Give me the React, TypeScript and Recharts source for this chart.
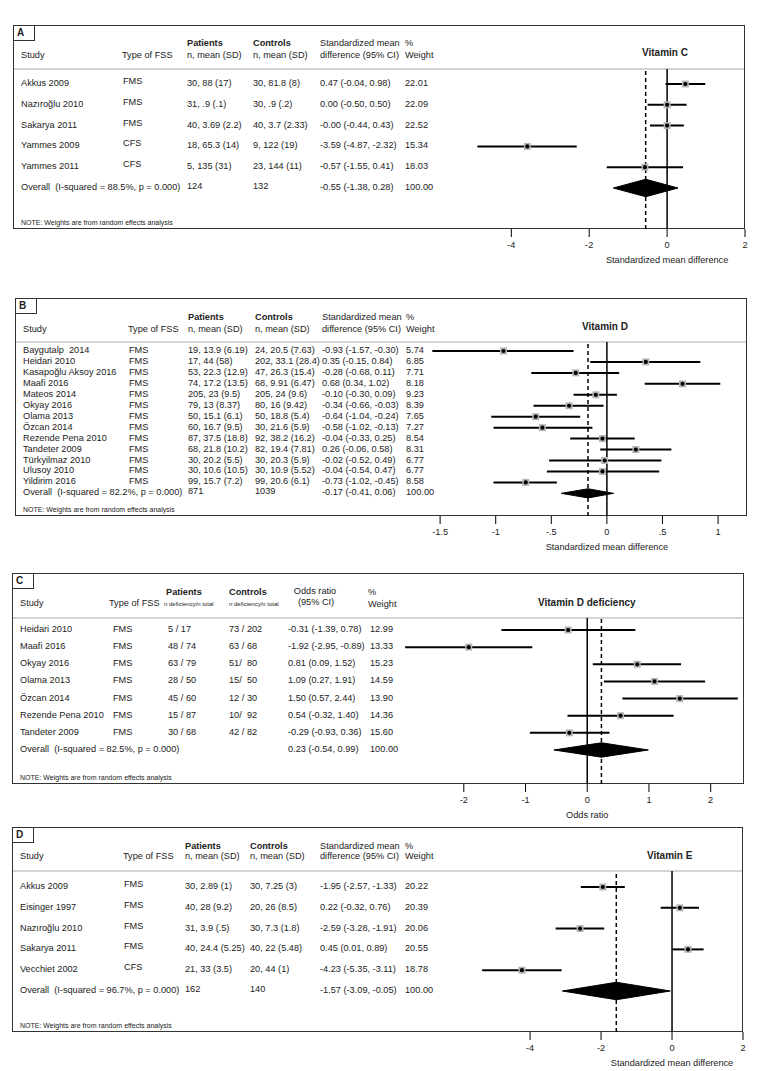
import React from 'react'
import { ComposedChart, Scatter, ErrorBar, Area, XAxis, YAxis, ReferenceLine } from 'recharts'

const FONT = '"Liberation Sans", Arial, Helvetica, sans-serif'
const INK = '#222'
const FS = 9.2

// A: Vitamin C
const studiesA = ['Akkus 2009', 'Nazıroğlu 2010', 'Sakarya 2011', 'Yammes 2009', 'Yammes 2011']
const fssA = ['FMS', 'FMS', 'FMS', 'CFS', 'CFS']
const patientsA = ['30, 88 (17)', '31, .9 (.1)', '40, 3.69 (2.2)', '18, 65.3 (14)', '5, 135 (31)']
const controlsA = ['30, 81.8 (8)', '30, .9 (.2)', '40, 3.7 (2.33)', '9, 122 (19)', '23, 144 (11)']
const smdA = [0.47, 0.0, -0.0, -3.59, -0.57]
const lowA = [-0.04, -0.5, -0.44, -4.87, -1.55]
const highA = [0.98, 0.5, 0.43, -2.32, 0.41]
const weightA = [22.01, 22.09, 22.52, 15.34, 18.03]
const overallA = { label: 'Overall  (I-squared = 88.5%, p = 0.000)', patients: '124', controls: '132', est: -0.55, low: -1.38, high: 0.28 }
const ticksA = [-4, -2, 0, 2]

// B: Vitamin D
const studiesB = ['Baygutalp  2014', 'Heidari 2010', 'Kasapoğlu Aksoy 2016', 'Maafi 2016', 'Mateos 2014', 'Okyay 2016', 'Olama 2013', 'Özcan 2014', 'Rezende Pena 2010', 'Tandeter 2009', 'Türkyilmaz 2010', 'Ulusoy 2010', 'Yildirim 2016']
const fssB = ['FMS', 'FMS', 'FMS', 'FMS', 'FMS', 'FMS', 'FMS', 'FMS', 'FMS', 'FMS', 'FMS', 'FMS', 'FMS']
const patientsB = ['19, 13.9 (6.19)', '17, 44 (58)', '53, 22.3 (12.9)', '74, 17.2 (13.5)', '205, 23 (9.5)', '79, 13 (8.37)', '50, 15.1 (6.1)', '60, 16.7 (9.5)', '87, 37.5 (18.8)', '68, 21.8 (10.2)', '30, 20.2 (5.5)', '30, 10.6 (10.5)', '99, 15.7 (7.2)']
const controlsB = ['24, 20.5 (7.63)', '202, 33.1 (28.4)', '47, 26.3 (15.4)', '68, 9.91 (6.47)', '205, 24 (9.6)', '80, 16 (9.42)', '50, 18.8 (5.4)', '30, 21.6 (5.9)', '92, 38.2 (16.2)', '82, 19.4 (7.81)', '30, 20.3 (5.9)', '30, 10.9 (5.52)', '99, 20.6 (6.1)']
const smdB = [-0.93, 0.35, -0.28, 0.68, -0.1, -0.34, -0.64, -0.58, -0.04, 0.26, -0.02, -0.04, -0.73]
const lowB = [-1.57, -0.15, -0.68, 0.34, -0.3, -0.66, -1.04, -1.02, -0.33, -0.06, -0.52, -0.54, -1.02]
const highB = [-0.3, 0.84, 0.11, 1.02, 0.09, -0.03, -0.24, -0.13, 0.25, 0.58, 0.49, 0.47, -0.45]
const weightB = [5.74, 6.85, 7.71, 8.18, 9.23, 8.39, 7.65, 7.27, 8.54, 8.31, 6.77, 6.77, 8.58]
const overallB = { label: 'Overall  (I-squared = 82.2%, p = 0.000)', patients: '871', controls: '1039', est: -0.17, low: -0.41, high: 0.06 }
const ticksB = [-1.5, -1, -0.5, 0, 0.5, 1]

// C: Vitamin D deficiency
const studiesC = ['Heidari 2010', 'Maafi 2016', 'Okyay 2016', 'Olama 2013', 'Özcan 2014', 'Rezende Pena 2010', 'Tandeter 2009']
const fssC = ['FMS', 'FMS', 'FMS', 'FMS', 'FMS', 'FMS', 'FMS']
const patientsC = ['5 / 17', '48 / 74', '63 / 79', '28 / 50', '45 / 60', '15 / 87', '30 / 68']
const controlsC = ['73 / 202', '63 / 68', '51/  80', '15/  50', '12 / 30', '10/  92', '42 / 82']
const orC = [-0.31, -1.92, 0.81, 1.09, 1.5, 0.54, -0.29]
const lowC = [-1.39, -2.95, 0.09, 0.27, 0.57, -0.32, -0.93]
const highC = [0.78, -0.89, 1.52, 1.91, 2.44, 1.4, 0.36]
const weightC = [12.99, 13.33, 15.23, 14.59, 13.9, 14.36, 15.6]
const overallC = { label: 'Overall  (I-squared = 82.5%, p = 0.000)', patients: '', controls: '', est: 0.23, low: -0.54, high: 0.99 }
const ticksC = [-2, -1, 0, 1, 2]

// D: Vitamin E
const studiesD = ['Akkus 2009', 'Eisinger 1997', 'Nazıroğlu 2010', 'Sakarya 2011', 'Vecchiet 2002']
const fssD = ['FMS', 'FMS', 'FMS', 'FMS', 'CFS']
const patientsD = ['30, 2.89 (1)', '40, 28 (9.2)', '31, 3.9 (.5)', '40, 24.4 (5.25)', '21, 33 (3.5)']
const controlsD = ['30, 7.25 (3)', '20, 26 (8.5)', '30, 7.3 (1.8)', '40, 22 (5.48)', '20, 44 (1)']
const smdD = [-1.95, 0.22, -2.59, 0.45, -4.23]
const lowD = [-2.57, -0.32, -3.28, 0.01, -5.35]
const highD = [-1.33, 0.76, -1.91, 0.89, -3.11]
const weightD = [20.22, 20.39, 20.06, 20.55, 18.78]
const overallD = { label: 'Overall  (I-squared = 96.7%, p = 0.000)', patients: '162', controls: '140', est: -1.57, low: -3.09, high: -0.05 }
const ticksD = [-4, -2, 0, 2]

const fmt = (v: number) => (Object.is(v, -0) ? '-0.00' : v.toFixed(2))
const ciText = (e: number, l: number, h: number) => `${fmt(e)} (${fmt(l)}, ${fmt(h)})`
const tickFmt = (v: number) => String(v).replace(/^(-?)0\./, '$1.')

type Head = { t: string; x: number; y: number; b?: boolean; s?: number; c?: boolean }

function T({ x, y, children, b, s, c }: { x: number; y: number; children: React.ReactNode; b?: boolean; s?: number; c?: boolean }) {
  return (
    <div
      style={{
        position: 'absolute', left: x, top: y, transform: c ? 'translate(-50%,-50%)' : 'translateY(-50%)',
        fontFamily: FONT, fontSize: s ?? FS, fontWeight: b ? 700 : 400, color: INK, whiteSpace: 'pre', lineHeight: 1,
      }}
    >
      {children}
    </div>
  )
}

const smdHeads = (c: any, top: number, bot: number): Head[] => [
  { t: 'Study', x: c.name, y: bot },
  { t: 'Type of FSS', x: c.fss - 1, y: bot },
  { t: 'Patients', x: c.pat, y: top, b: true },
  { t: 'n, mean (SD)', x: c.pat, y: bot },
  { t: 'Controls', x: c.ctl, y: top, b: true },
  { t: 'n, mean (SD)', x: c.ctl, y: bot },
  { t: 'Standardized mean', x: c.ci, y: top },
  { t: 'difference (95% CI)', x: c.ci, y: bot },
  { t: '%', x: c.wt, y: top },
  { t: 'Weight', x: c.wt, y: bot },
]

const Marker = (props: any) => {
  const { cx, cy } = props
  if (cx == null || cy == null) return null
  return (
    <g>
      <rect x={cx - 3.5} y={cy - 3.5} width={7} height={7} fill="#b5b5b5" />
      <circle cx={cx} cy={cy} r={2.1} fill="#000" />
    </g>
  )
}

function Panel(p: any) {
  const n = p.studies.length
  const rows = p.est.map((e: number, i: number) => ({ x: e, y: i, err: [e - p.low[i], p.high[i] - e] }))
  const ov = p.overall
  const diamond = [
    { x: ov.low, d: [n, n] },
    { x: ov.est, d: [n - 0.42, n + 0.42] },
    { x: ov.high, d: [n, n] },
  ]
  const rowY = (i: number) => p.row0 + p.pitch * i
  const box = p.box
  const yDomain = [(p.headerY - p.row0) / p.pitch, (box.b - p.row0) / p.pitch]
  const cw = box.r - p.plotLeft + 25
  const ch = box.b - p.headerY + 45
  const c = p.cols
  return (
    <>
      <div style={{ position: 'absolute', left: box.l, top: box.t, width: box.r - box.l, height: box.b - box.t, border: '1.5px solid #333', boxSizing: 'border-box' }} />
      <div style={{ position: 'absolute', left: box.l, top: box.t, width: 22, height: 16, borderRight: '1.5px solid #333', borderBottom: '1.5px solid #333', boxSizing: 'border-box' }} />
      <T x={box.l + 4} y={box.t + 8} b s={10}>{p.letter}</T>
      <div style={{ position: 'absolute', left: box.l + 1, top: p.headerY - 1, width: box.r - box.l - 2, height: 2, background: '#d4d4d4' }} />
      {p.heads.map((h: Head, i: number) => (
        <T key={'h' + i} x={h.x} y={h.y} b={h.b} s={h.s} c={h.c}>{h.t}</T>
      ))}
      <T x={p.titleX} y={p.titleY} b s={10}>{p.title}</T>
      {p.studies.map((s: string, i: number) => (
        <React.Fragment key={s}>
          <T x={c.name} y={rowY(i)}>{s}</T>
          <T x={c.fss} y={rowY(i) + p.fssDy}>{p.fss[i]}</T>
          <T x={c.pat} y={rowY(i)}>{p.patients[i]}</T>
          <T x={c.ctl} y={rowY(i)}>{p.controls[i]}</T>
          <T x={c.ci} y={rowY(i)}>{ciText(p.est[i], p.low[i], p.high[i])}</T>
          <T x={c.wt} y={rowY(i)}>{p.weight[i].toFixed(2)}</T>
        </React.Fragment>
      ))}
      <T x={c.name} y={rowY(n)}>{ov.label}</T>
      <T x={c.pat} y={rowY(n) - 1}>{ov.patients}</T>
      <T x={c.ctl} y={rowY(n) - 1}>{ov.controls}</T>
      <T x={c.ci} y={rowY(n)}>{ciText(ov.est, ov.low, ov.high)}</T>
      <T x={c.wt} y={rowY(n)}>{(100).toFixed(2)}</T>
      <T x={c.name} y={box.b - 7} s={7}>NOTE: Weights are from random effects analysis</T>
      <div style={{ position: 'absolute', left: p.plotLeft, top: p.headerY }}>
        <ComposedChart width={cw} height={ch} margin={{ top: 0, right: 25, left: 0, bottom: 0 }}>
          <XAxis
            type="number" dataKey="x" domain={p.domain} allowDataOverflow ticks={p.ticks} interval={0}
            tickFormatter={tickFmt} axisLine={false} tickLine={{ stroke: '#000' }} tickSize={8} tickMargin={4} height={45}
            tick={{ fontSize: FS, fill: INK, fontFamily: FONT }}
          />
          <YAxis type="number" dataKey="y" domain={yDomain} allowDataOverflow reversed hide />
          <ReferenceLine
            x={0} stroke="#000" strokeWidth={1.5}
            label={{ value: p.axisTitle, position: 'bottom', offset: 27, fontSize: FS, fill: INK, fontFamily: FONT }}
          />
          <ReferenceLine x={ov.est} stroke="#000" strokeWidth={1.5} strokeDasharray="4 3" />
          <Area data={diamond} dataKey="d" type="linear" stroke="#000" strokeWidth={1} fill="#000" fillOpacity={1} dot={false} activeDot={false} isAnimationActive={false} />
          <Scatter data={rows} shape={Marker} isAnimationActive={false}>
            <ErrorBar dataKey="err" direction="x" width={0} stroke="#000" strokeWidth={2} />
          </Scatter>
        </ComposedChart>
      </div>
    </>
  )
}

const colsA = { name: 21, fss: 123, pat: 187, ctl: 253, ci: 320, wt: 405 }
const colsB = { name: 23, fss: 129, pat: 188, ctl: 255, ci: 322, wt: 406 }
const colsC = { name: 20, fss: 113, pat: 168, ctl: 229, ci: 288, wt: 370 }
const colsD = { name: 20, fss: 124, pat: 185, ctl: 250, ci: 320, wt: 405 }

const headsC: Head[] = [
  { t: 'Study', x: 20, y: 604 },
  { t: 'Type of FSS', x: 109, y: 604 },
  { t: 'Patients', x: 166, y: 593, b: true },
  { t: 'n deficiency/n total', x: 164, y: 604, s: 6 },
  { t: 'Controls', x: 229, y: 593, b: true },
  { t: 'n deficiency/n total', x: 229, y: 604, s: 6 },
  { t: 'Odds ratio', x: 315, y: 592, c: true },
  { t: '(95% CI)', x: 316, y: 603, c: true },
  { t: '%', x: 368, y: 593 },
  { t: 'Weight', x: 368, y: 605 },
]

export default function App() {
  return (
    <div style={{ position: 'absolute', left: 0, top: 0, width: 765, height: 1071, background: '#fff', overflow: 'hidden' }}>
      <Panel
        letter="A" title="Vitamin C" titleX={642} titleY={53} axisTitle="Standardized mean difference"
        box={{ l: 13, t: 25, r: 745, b: 229 }} headerY={69} row0={84} pitch={20.8} plotLeft={449} domain={[-5.6, 2]} ticks={ticksA}
        cols={colsA} heads={smdHeads(colsA, 44, 56)} fssDy={-2}
        studies={studiesA} fss={fssA} patients={patientsA} controls={controlsA} est={smdA} low={lowA} high={highA} weight={weightA} overall={overallA}
      />
      <Panel
        letter="B" title="Vitamin D" titleX={582} titleY={327} axisTitle="Standardized mean difference"
        box={{ l: 15, t: 298, r: 747, b: 516 }} headerY={342} row0={351} pitch={10.95} plotLeft={429} domain={[-1.6, 1.26]} ticks={ticksB}
        cols={colsB} heads={smdHeads(colsB, 318, 330)} fssDy={0}
        studies={studiesB} fss={fssB} patients={patientsB} controls={controlsB} est={smdB} low={lowB} high={highB} weight={weightB} overall={overallB}
      />
      <Panel
        letter="C" title="Vitamin D deficiency" titleX={538} titleY={603} axisTitle="Odds ratio"
        box={{ l: 12, t: 573, r: 744, b: 784 }} headerY={618} row0={630} pitch={17.14} plotLeft={399} domain={[-3.05, 2.54]} ticks={ticksC}
        cols={colsC} heads={headsC} fssDy={0}
        studies={studiesC} fss={fssC} patients={patientsC} controls={controlsC} est={orC} low={lowC} high={highC} weight={weightC} overall={overallC}
      />
      <Panel
        letter="D" title="Vitamin E" titleX={647} titleY={856} axisTitle="Standardized mean difference"
        box={{ l: 12, t: 827, r: 743, b: 1032 }} headerY={871} row0={887} pitch={20.8} plotLeft={452} domain={[-6.2, 2]} ticks={ticksD}
        cols={colsD} heads={smdHeads(colsD, 847, 857)} fssDy={-2}
        studies={studiesD} fss={fssD} patients={patientsD} controls={controlsD} est={smdD} low={lowD} high={highD} weight={weightD} overall={overallD}
      />
    </div>
  )
}
